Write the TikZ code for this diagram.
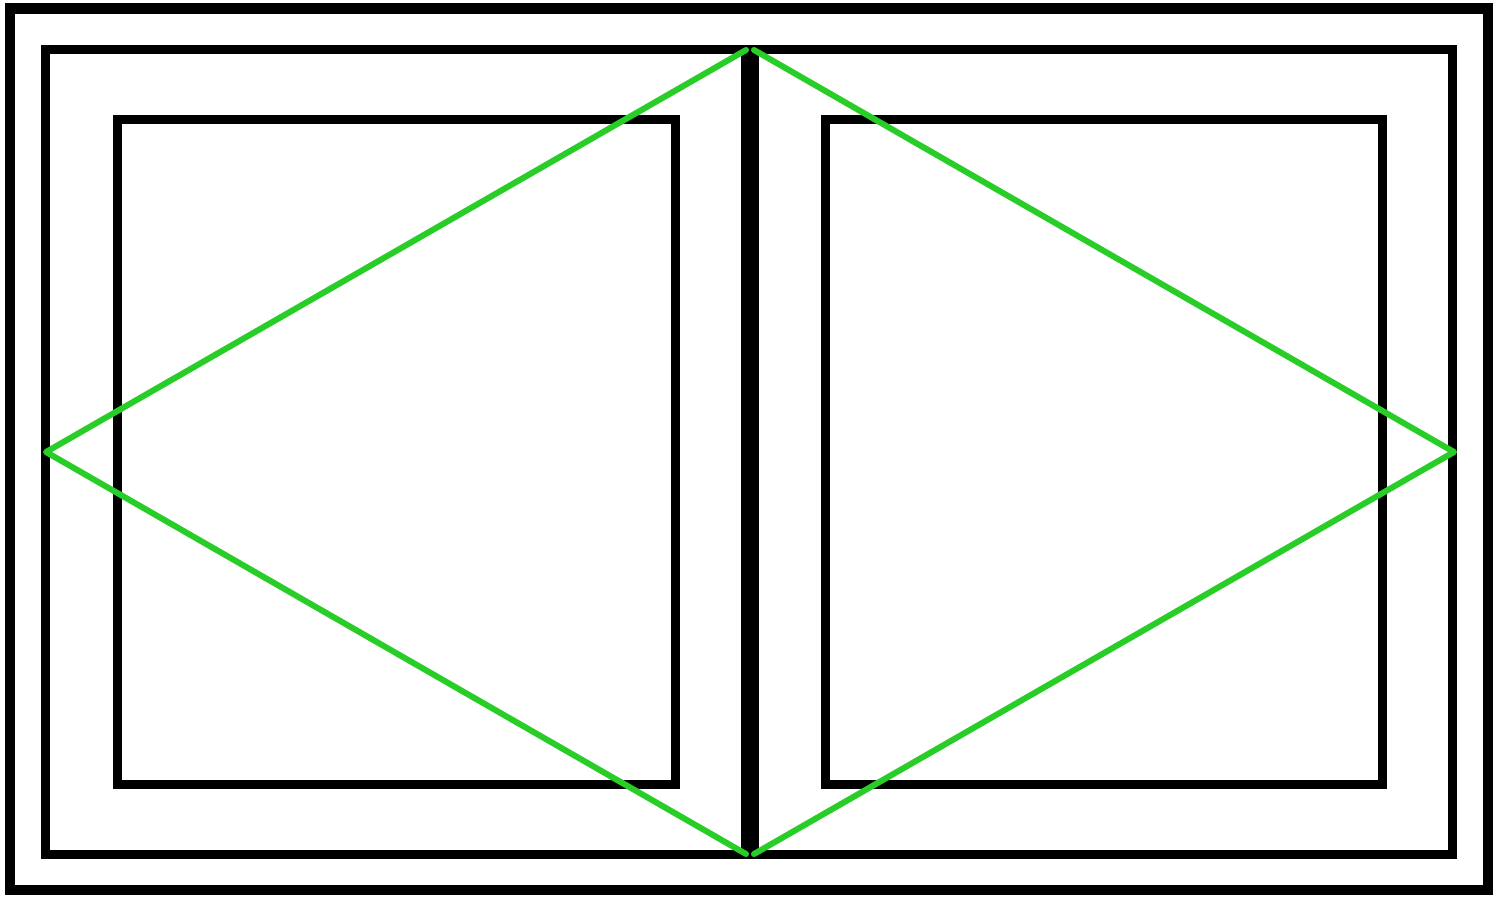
\documentclass[tikz,border=0pt]{standalone}
\definecolor{leafgreen}{RGB}{40,205,40}
\tikzset{
  outerframe/.style={draw=black,line width=10bp},
  frameline/.style={draw=black,line width=9bp},
  paneline/.style={draw=black,line width=9bp},
  mullion/.style={draw=black,line width=18bp},
  openline/.style={draw=leafgreen,line width=6bp,line join=round,line cap=round}
}
\begin{document}
\begin{tikzpicture}[x=1bp,y=-1bp]
\useasboundingbox[fill=white] (0,0) rectangle (1500,902);
% outer frame
\draw[outerframe] (9.5,8.5) rectangle (1488,890);
% sash frame
\draw[frameline] (45.5,49) rectangle (1452,854);
% panes
\draw[paneline] (117,119.5) rectangle (675,784);
\draw[paneline] (825,119.5) rectangle (1382,784);
% mullion
\coordinate (mt) at (750,49);
\coordinate (mb) at (750,854);
\draw[mullion] (mt) -- (mb);
% opening indicators
\coordinate (lt) at (746,50);
\coordinate (lm) at (46,452);
\coordinate (lb) at (746,854);
\coordinate (rt) at (754,50);
\coordinate (rm) at (1454,452);
\coordinate (rb) at (754,854);
\draw[openline] (lt) -- (lm) -- (lb);
\draw[openline] (rt) -- (rm) -- (rb);
\end{tikzpicture}
\end{document}
